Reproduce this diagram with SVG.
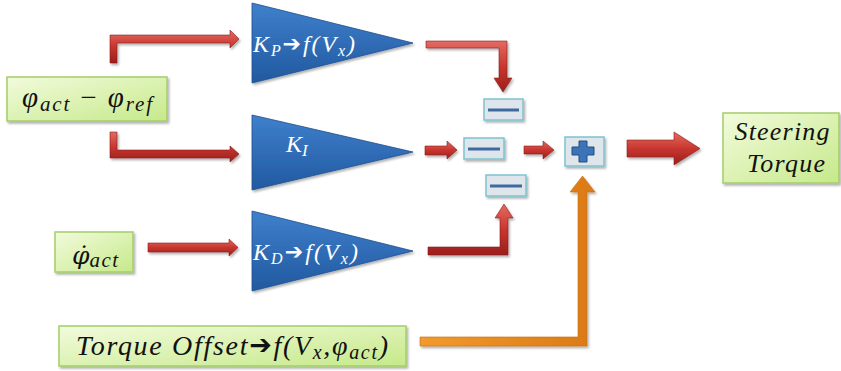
<svg xmlns="http://www.w3.org/2000/svg" width="841" height="371" viewBox="0 0 841 371">
<defs>
<linearGradient id="gGreen" x1="0" y1="0" x2="1" y2="1">
<stop offset="0" stop-color="#F2FBDC"/>
<stop offset="1" stop-color="#C6E98A"/>
</linearGradient>
<linearGradient id="gBlue" x1="0" y1="0" x2="0" y2="1">
<stop offset="0" stop-color="#3F80CC"/>
<stop offset="1" stop-color="#2159A0"/>
</linearGradient>
<linearGradient id="gRedH" x1="0" y1="0" x2="0" y2="1">
<stop offset="0" stop-color="#E46A62"/>
<stop offset="0.5" stop-color="#C8362F"/>
<stop offset="1" stop-color="#9A1F1C"/>
</linearGradient>
<linearGradient id="gOrange" x1="0" y1="0" x2="1" y2="0">
<stop offset="0" stop-color="#F39A2E"/>
<stop offset="1" stop-color="#DB7A14"/>
</linearGradient>
<filter id="sh" x="-10%" y="-10%" width="130%" height="140%">
<feDropShadow dx="1.5" dy="2" stdDeviation="1.2" flood-color="#000" flood-opacity="0.3"/>
</filter>
<style>
.box{fill:url(#gGreen);stroke:#A3CE68;stroke-width:1.5;filter:url(#sh)}
.tri{fill:url(#gBlue);stroke:#1E4F8C;stroke-width:0.8;filter:url(#sh)}
.red{fill:url(#gRedH);stroke:#8A1C1A;stroke-width:0.6;filter:url(#sh)}
.org{fill:url(#gOrange);stroke:#C76C10;stroke-width:0.6;filter:url(#sh)}
.op{fill:#DEE6EB;stroke:#7DC4D0;stroke-width:1.5;filter:url(#sh)}
.bar{fill:#3E6B9F}
.t{font-family:"Liberation Serif","DejaVu Serif",serif;font-style:italic;fill:#111}
.w{font-family:"Liberation Serif","DejaVu Serif",serif;font-style:italic;fill:#FFFFFF}
.ar{font-family:"DejaVu Sans",sans-serif;font-style:normal;font-weight:bold}
</style>
</defs>

<g id="connectors">
<polygon class="red" points="110,63 117,63 117,43 230,43 230,48 239,39 230,30 230,35 110,35"/>
<polygon class="red" points="110,132 117,132 117,150 230,150 230,146 239,154 230,162 230,158 110,158"/>
<polygon class="red" points="148,243 229,243 229,239 238,247.5 229,256 229,252 148,252"/>
<polygon class="red" points="426,41 507,41 507,78 512,78 503,92 494,78 499,78 499,48 426,48"/>
<polygon class="red" points="425,146 447,146 447,141 457,150 447,159 447,155 425,155"/>
<polygon class="red" points="524,146 543,146 543,141 554,150 543,159 543,154 524,154"/>
<polygon class="red" points="428,247 500,247 500,218 495,218 504,204 513,218 508,218 508,255 428,255"/>
<polygon class="red" points="627,140 674,140 674,132 700,148.5 674,165 674,157 627,157"/>
<polygon class="org" points="420,337 578,337 578,192 570,192 582.5,176 595,192 587,192 587,346 420,346"/>
</g>

<g id="node-error">
<rect class="box" x="7" y="77" width="160" height="44"/>
<text class="t" x="22" y="107" font-size="29" textLength="130" lengthAdjust="spacing">φ<tspan font-size="21" dy="4">act</tspan><tspan dy="-4" font-style="normal"> − </tspan>φ<tspan font-size="21" dy="4">ref</tspan></text>
</g>

<g id="node-phidot">
<rect class="box" x="55" y="232" width="78" height="40"/>
<text x="72" y="264" font-family="'DejaVu Serif',serif" font-style="italic" font-size="25" fill="#111">φ̇<tspan font-family="'Liberation Serif',serif" font-size="21" dy="3" letter-spacing="1.5">act</tspan></text>
</g>

<g id="node-offset">
<rect class="box" x="59" y="326" width="347" height="40"/>
<text class="t" x="76" y="355" font-size="28" textLength="312" lengthAdjust="spacing">Torque Offset<tspan class="ar" font-size="27" dy="-1">➔</tspan><tspan dy="1">f(V</tspan><tspan font-size="20" dy="4">x</tspan><tspan dy="-4">,φ</tspan><tspan font-size="20" dy="4">act</tspan><tspan dy="-4">)</tspan></text>
</g>

<g id="node-kp">
<polygon class="tri" points="252,3 252,83 413,43"/>
<text class="w" x="253" y="52" font-size="24" textLength="102" lengthAdjust="spacing">K<tspan font-size="16" dy="4">P</tspan><tspan class="ar" font-size="22" dy="-5">➔</tspan><tspan dy="1">f(V</tspan><tspan font-size="16" dy="4">x</tspan><tspan dy="-4">)</tspan></text>
</g>

<g id="node-ki">
<polygon class="tri" points="252,115 252,190 413,152"/>
<text class="w" x="286" y="152" font-size="24">K<tspan font-size="17" dy="4">I</tspan></text>
</g>

<g id="node-kd">
<polygon class="tri" points="252,211 252,291 413,251"/>
<text class="w" x="253" y="260" font-size="24" textLength="105" lengthAdjust="spacing">K<tspan font-size="16" dy="4">D</tspan><tspan class="ar" font-size="22" dy="-5">➔</tspan><tspan dy="1">f(V</tspan><tspan font-size="16" dy="4">x</tspan><tspan dy="-4">)</tspan></text>
</g>

<g id="node-minus-top">
<rect class="op" x="484" y="99" width="39" height="21"/>
<rect class="bar" x="488" y="108.5" width="31" height="3"/>
</g>

<g id="node-minus-mid">
<rect class="op" x="464" y="138" width="40" height="21"/>
<rect class="bar" x="468" y="147.5" width="32" height="3"/>
</g>

<g id="node-minus-bot">
<rect class="op" x="486" y="175" width="40" height="21"/>
<rect class="bar" x="490" y="184.5" width="32" height="3"/>
</g>

<g id="node-plus">
<rect class="op" x="565" y="137" width="39" height="29"/>
<path d="M579,141 h8 v6 h7 v8 h-7 v7 h-8 v-7 h-7 v-8 h7 z" fill="#3C74B8" stroke="#244E82" stroke-width="1"/>
</g>

<g id="node-steering">
<rect class="box" x="723" y="113" width="116" height="70"/>
<text class="t" x="782" y="140" font-size="26" text-anchor="middle" textLength="95" lengthAdjust="spacing">Steering</text>
<text class="t" x="786" y="172" font-size="26" text-anchor="middle" textLength="78" lengthAdjust="spacing">Torque</text>
</g>
</svg>
